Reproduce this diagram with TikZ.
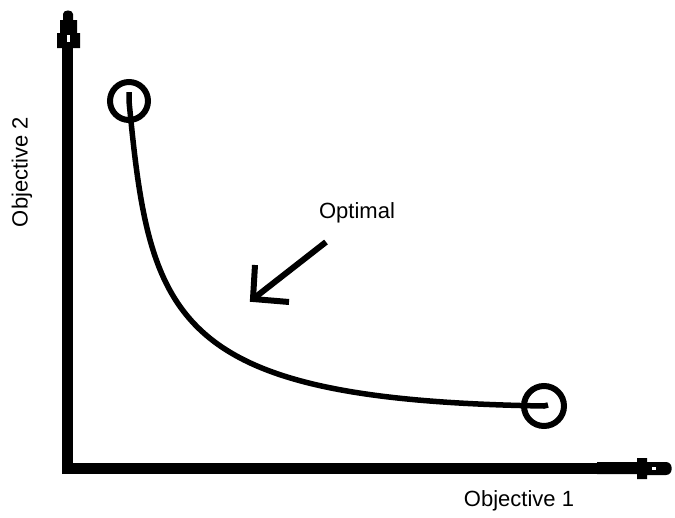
\documentclass[tikz,border=0pt]{standalone}
\usepackage{fontspec}
\setmainfont{Liberation Sans}
\usepackage{tikz}
\usetikzlibrary{arrows.meta}

\tikzset{
  pen/.style={line width=5.5pt},
  ring/.style={circle,draw,line width=6pt,minimum size=38pt,inner sep=0pt},
  axislabel/.style={font=\fontsize{22}{26}\selectfont,inner sep=0pt}
}

\begin{document}
\begin{tikzpicture}[x=1pt,y=-1pt]
  \useasboundingbox (0,0) rectangle (675,517);
  % axes
  \draw[line width=11pt] (67.5,474) -- (67.5,46);
  \fill (57,48) -- (80,48) -- (80,33) -- (77,33) -- (77,20) -- (73,20) -- (73,14)
        to[out=90,in=90,looseness=1.2] (63,14) -- (63,20) -- (60,20) -- (60,33) -- (57,33) -- cycle;
  \fill[white] (67,35) rectangle (70,42);
  \draw[line width=11pt] (62,468.5) -- (600,468.5);
  \fill (597,462) -- (637,462) -- (637,458) -- (647,458) -- (647,462) -- (666,462)
        to[out=0,in=0,looseness=1.5] (666,475) -- (647,475) -- (647,479) -- (637,479)
        -- (637,474) -- (597,474) -- cycle;
  \fill[white] (652,467) rectangle (656,470);
  \node[axislabel] (xlabel) at (519,501) {Objective 1};
  \node[axislabel,rotate=90] (ylabel) at (22,172) {Objective 2};
  % front
  \node[ring] (best2) at (129,101) {};
  \node[ring,minimum size=40pt] (best1) at (544,406) {};
  \draw[pen] (129,92) -- (best2.center) .. controls (150,320) and (170,400) .. (best1.center) -- (548,405);
  % optimal direction
  \node[axislabel] (optlabel) at (357,213) {Optimal};
  \coordinate (opttail) at (326,242);
  \coordinate (opttip) at (253,299);
  \draw[line width=6pt] (opttail) -- (opttip);
  \draw[line width=6pt,line join=miter] (255,265) -- (opttip) -- (289,302);
\end{tikzpicture}
\end{document}
